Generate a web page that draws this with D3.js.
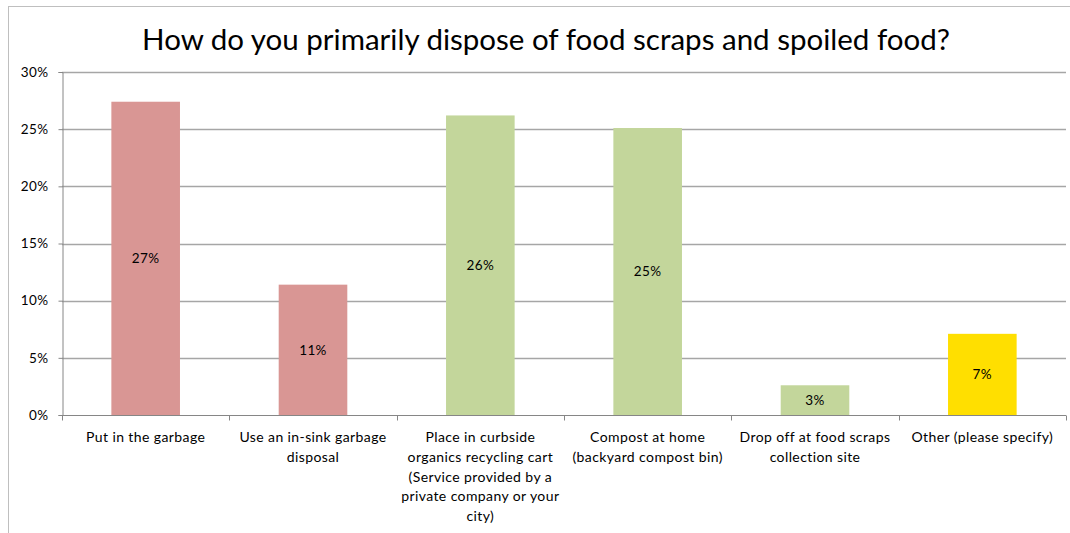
<!DOCTYPE html>
<html>
<head>
<meta charset="utf-8">
<script src="https://cdn.jsdelivr.net/npm/d3@7"></script>
<style>
  body { margin: 0; background: #fff; }
  text { font-family: Lato, "Liberation Sans", sans-serif; }
</style>
</head>
<body>
<div id="chart"></div>
<script>
// chart data
var categories = ["Put in the garbage",
                  "Use an in-sink garbage disposal",
                  "Place in curbside organics recycling cart (Service provided by a private company or your city)",
                  "Compost at home (backyard compost bin)",
                  "Drop off at food scraps collection site",
                  "Other (please specify)"];
var values = [0.274, 0.114, 0.262, 0.251, 0.026, 0.071];
var barColors = ["#D99694", "#D99694", "#C3D69B", "#C3D69B", "#C3D69B", "#FFDF00"];
var yTicks = [0, 0.05, 0.10, 0.15, 0.20, 0.25, 0.30];
var title = "How do you primarily dispose of food scraps and spoiled food?";

var WIDTH = 1070, HEIGHT = 533,
    MARGINS = { top: 72, right: 4, bottom: 118, left: 62 };
var LABEL_FONT = "14px", LABEL_SPACING = "0.4px";

var svg = d3.select("#chart")
    .append("svg")
    .attr("width", WIDTH)
    .attr("height", HEIGHT);

// outer chart frame
svg.append("rect")
    .attr("x", 8.5).attr("y", 6.5)
    .attr("width", WIDTH + 20).attr("height", HEIGHT + 20)
    .attr("fill", "white")
    .attr("stroke", "#BFBFBF")
    .attr("stroke-width", 1);

var xScale = d3.scaleBand()
    .domain(categories)
    .range([MARGINS.left, WIDTH - MARGINS.right])
    .paddingInner(0.59)
    .paddingOuter(0.295);

var yScale = d3.scaleLinear()
    .domain([0, 0.30])
    .range([HEIGHT - MARGINS.bottom, MARGINS.top]);

// gridlines
svg.append("g")
    .selectAll("line")
    .data(yTicks.slice(1))
    .enter().append("line")
    .attr("x1", MARGINS.left)
    .attr("x2", WIDTH - MARGINS.right)
    .attr("y1", function(d) { return Math.round(yScale(d)) + 0.5; })
    .attr("y2", function(d) { return Math.round(yScale(d)) + 0.5; })
    .attr("stroke", "#A6A6A6")
    .attr("stroke-width", 1.3);

// bars
svg.append("g")
    .selectAll("rect")
    .data(values)
    .enter().append("rect")
    .attr("x", function(d, i) { return xScale(categories[i]); })
    .attr("width", xScale.bandwidth())
    .attr("y", function(d) { return yScale(d); })
    .attr("height", function(d) { return yScale(0) - yScale(d); })
    .attr("fill", function(d, i) { return barColors[i]; });

// data labels
svg.append("g")
    .selectAll("text")
    .data(values)
    .enter().append("text")
    .attr("x", function(d, i) { return xScale(categories[i]) + xScale.bandwidth() / 2; })
    .attr("y", function(d) { return (yScale(d) + yScale(0)) / 2; })
    .attr("dy", ".35em")
    .style("text-anchor", "middle")
    .style("font-size", "13.5px")
    .style("letter-spacing", LABEL_SPACING)
    .style("fill", "#000")
    .text(function(d) { return d3.format(".0%")(d); });

// y axis
var yAxis = d3.axisLeft(yScale)
    .tickValues(yTicks)
    .tickFormat(d3.format(".0%"))
    .tickSize(4)
    .tickPadding(10);

var gy = svg.append("g")
    .attr("transform", "translate(" + (MARGINS.left + 0.5) + ",0)")
    .call(yAxis);
gy.select(".domain").attr("stroke", "#868686");
gy.selectAll(".tick line").attr("stroke", "#868686");
gy.selectAll(".tick text").style("font-size", "13.5px").style("fill", "#000")
    .style("letter-spacing", LABEL_SPACING)
    .style("font-family", "Lato, 'Liberation Sans', sans-serif");

// x axis line and category boundary ticks
var x0 = MARGINS.left, x1 = WIDTH - MARGINS.right, step = xScale.step();
var baseY = Math.round(yScale(0)) + 0.5;
svg.append("line")
    .attr("x1", x0).attr("x2", x1)
    .attr("y1", baseY).attr("y2", baseY)
    .attr("stroke", "#868686");
svg.append("g")
    .selectAll("line")
    .data(d3.range(categories.length + 1))
    .enter().append("line")
    .attr("x1", function(i) { return Math.round(x0 + i * step) + 0.5; })
    .attr("x2", function(i) { return Math.round(x0 + i * step) + 0.5; })
    .attr("y1", baseY).attr("y2", baseY + 5)
    .attr("stroke", "#868686");

// category labels, wrapped to the band width
var measure = svg.append("text").style("font-size", LABEL_FONT).style("letter-spacing", LABEL_SPACING);
function wrapText(str, maxW) {
    var words = str.split(" "), lines = [], cur = "";
    words.forEach(function(w) {
        var test = cur ? cur + " " + w : w;
        measure.text(test);
        if (measure.node().getComputedTextLength() > maxW && cur) {
            lines.push(cur);
            cur = w;
        } else {
            cur = test;
        }
    });
    if (cur) lines.push(cur);
    return lines;
}

categories.forEach(function(c, i) {
    var lines = wrapText(c, 164);
    var cx = xScale(c) + xScale.bandwidth() / 2;
    var t = svg.append("text")
        .attr("x", cx)
        .attr("y", 442)
        .style("text-anchor", "middle")
        .style("font-size", LABEL_FONT)
        .style("letter-spacing", LABEL_SPACING)
        .style("fill", "#000");
    lines.forEach(function(l, j) {
        t.append("tspan")
            .attr("x", cx)
            .attr("y", 442 + j * 19.8)
            .text(l);
    });
});
measure.remove();

// title
svg.append("text")
    .attr("x", 546)
    .attr("y", 50)
    .style("text-anchor", "middle")
    .style("font-size", "29.5px")
    .style("fill", "#000")
    .text(title);
</script>
</body>
</html>
